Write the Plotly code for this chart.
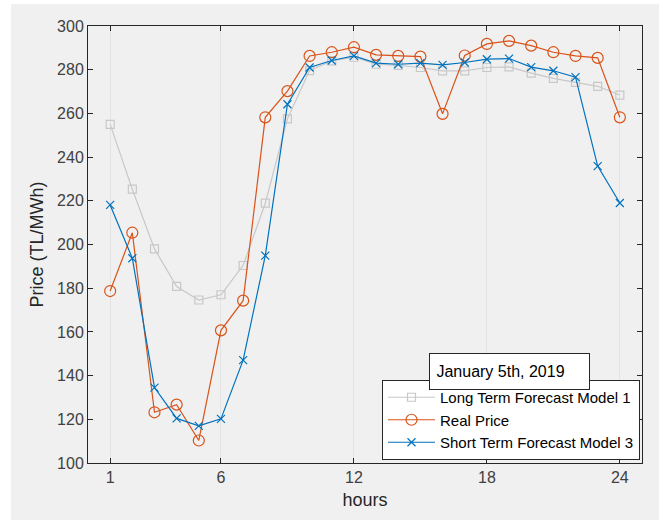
import plotly.graph_objects as go

hours = list(range(1, 25))

long_term = [255, 225.3, 198, 180.8, 174.6, 177, 190.4, 218.9, 257.5, 279.6, 284, 285.7,
             282.5, 282, 281, 279.5, 279.5, 281, 281.3, 278.4, 276, 274.2, 272.4, 268.4]
real_price = [178.7, 205.4, 123.2, 126.7, 110.3, 160.7, 174.3, 258.2, 270.2, 286.3, 288, 290.3,
              286.8, 286.3, 286, 259.8, 286.5, 291.8, 293.2, 291, 288, 286.3, 285.4, 258.2]
short_term = [218.1, 193.7, 134.5, 120.4, 117, 120.2, 147.1, 194.9, 264.2, 281, 284.2, 286.3,
              283, 282.5, 283, 282.2, 283.3, 284.8, 285.1, 281.2, 279.5, 276.6, 235.9, 219]

x_ticks = [1, 6, 12, 18, 24]
y_ticks = list(range(100, 301, 20))

GRAY = "#c8c8c8"
ORANGE = "#D95319"
BLUE = "#0072BD"
AX = "#262626"
FONT = "Liberation Sans, Arial, sans-serif"

fig = go.Figure()
fig.add_trace(go.Scatter(
    x=hours, y=long_term, name="Long Term Forecast Model 1", mode="lines+markers",
    line=dict(color=GRAY, width=1.2),
    marker=dict(symbol="square-open", size=8, color=GRAY, line=dict(width=1.2, color=GRAY))))
fig.add_trace(go.Scatter(
    x=hours, y=real_price, name="Real Price", mode="lines+markers",
    line=dict(color=ORANGE, width=1.2),
    marker=dict(symbol="circle-open", size=11, color=ORANGE, line=dict(width=1.2, color=ORANGE))))
fig.add_trace(go.Scatter(
    x=hours, y=short_term, name="Short Term Forecast Model 3", mode="lines+markers",
    line=dict(color=BLUE, width=1.2),
    marker=dict(symbol="x-thin-open", size=8, color=BLUE, line=dict(width=1.2, color=BLUE))))

L, T, R, B = 88, 26, 642, 463
W, H = 663, 520
pw, ph = R - L, B - T

def px(xp):
    return (xp - L) / pw

def py(yp):
    return (B - yp) / ph

shapes = [
    dict(type="rect", xref="paper", yref="paper", layer="below",
         x0=px(0), x1=px(W), y0=py(0), y1=py(H), fillcolor="white", line=dict(width=0)),
    dict(type="rect", xref="paper", yref="paper", layer="below",
         x0=px(11), x1=px(659), y0=py(4), y1=py(H), fillcolor="#f0f0f0", line=dict(width=0)),
]

fig.update_layout(
    width=W, height=H,
    margin=dict(l=L, r=W - R, t=T, b=H - B, pad=0),
    paper_bgcolor="white", plot_bgcolor="white",
    font=dict(family=FONT, color=AX, size=16),
    shapes=shapes,
    showlegend=True,
    legend=dict(x=px(640), y=py(460), xanchor="right", yanchor="bottom",
                bgcolor="white", bordercolor=AX, borderwidth=1,
                font=dict(size=15, family=FONT, color="#000000"),
                tracegroupgap=0, itemwidth=47),
    annotations=[dict(
        text="&nbsp;January 5th, 2019", xref="paper", yref="paper",
        x=px(509.5), y=py(371.5), xanchor="center", yanchor="middle",
        showarrow=False, bgcolor="white", bordercolor=AX, borderwidth=1,
        width=155, height=31, borderpad=2, align="left",
        font=dict(size=16, family=FONT, color="#000000"))],
)

fig.update_xaxes(
    range=[0, 25], tickvals=x_ticks, ticktext=[str(v) for v in x_ticks],
    showgrid=True, gridcolor="#e3e3e3", gridwidth=1, zeroline=False,
    showline=True, linecolor=AX, linewidth=1, mirror="ticks",
    ticks="inside", ticklen=5, tickcolor=AX,
    tickfont=dict(size=16, color="#404040"),
    title=dict(text="hours", font=dict(size=18, color="#262626"), standoff=8))
fig.update_yaxes(
    range=[100, 300], tickvals=y_ticks,
    showgrid=False, zeroline=False,
    showline=True, linecolor=AX, linewidth=1, mirror="ticks",
    ticks="inside", ticklen=5, tickcolor=AX,
    tickfont=dict(size=16, color="#404040"),
    title=dict(text="Price (TL/MWh)", font=dict(size=18, color="#262626"), standoff=8))

fig.write_html("out.html")
